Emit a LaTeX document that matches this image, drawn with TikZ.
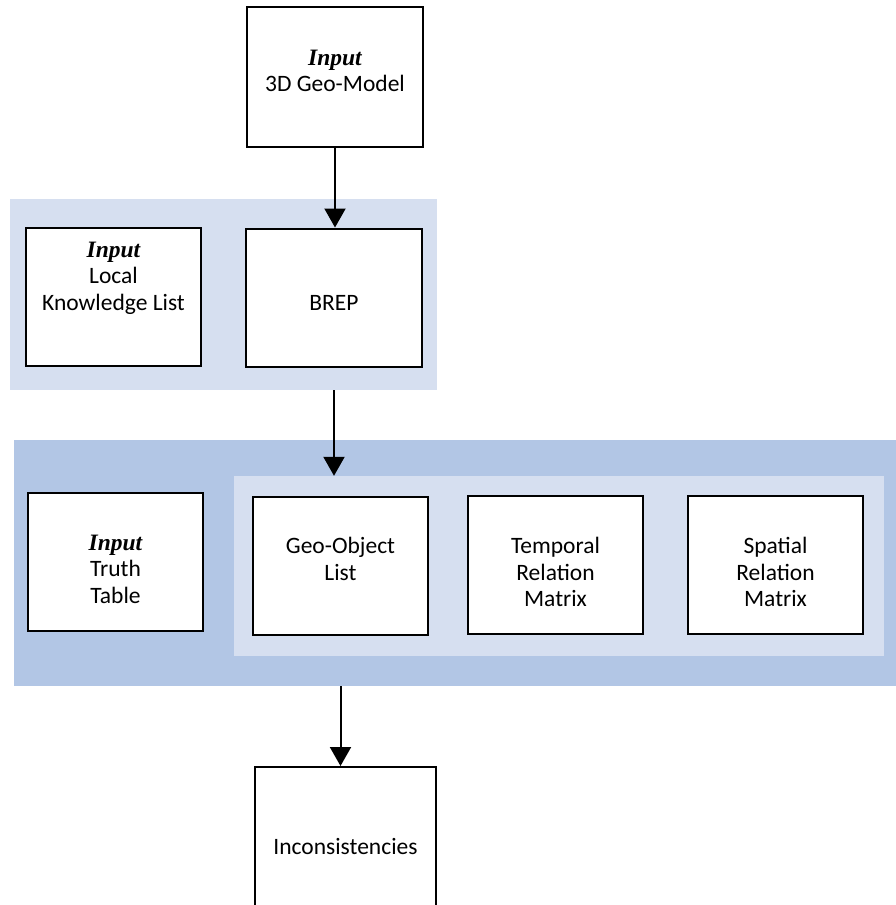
\documentclass[tikz,border=0pt]{standalone}
\usepackage{fontspec}
\setmainfont{Carlito}
\newfontfamily\inputfont{Liberation Serif}
\usetikzlibrary{arrows.meta}

\definecolor{panellight}{RGB}{214,223,240}
\definecolor{paneldark}{RGB}{178,198,229}
\newcommand{\inlabel}{{\inputfont\bfseries\itshape Input}}

\begin{document}
\begin{tikzpicture}[x=1pt,y=-1pt,
    box/.style={draw=black,line width=2pt,fill=white,minimum width=175pt,minimum height=138pt,inner sep=0pt},
    panel/.style={draw=none,inner sep=0pt},
    txt/.style={align=center,font=\fontsize{23.5}{26.5}\selectfont,inner sep=0pt},
    flow/.style={line width=2pt,-{Triangle[width=21pt,length=19pt]}}]
  \useasboundingbox (0,0) rectangle (896,905);
  \clip (0,0) rectangle (896,905);

  % background panels
  \node[panel,fill=panellight,minimum width=427pt,minimum height=191pt] (panelA) at (223.5,294.5) {};
  \node[panel,fill=paneldark,minimum width=890pt,minimum height=246pt] (panelB) at (459,563) {};
  \node[panel,fill=panellight,minimum width=650pt,minimum height=180pt] (panelC) at (559,566) {};

  % boxes
  \node[box,minimum width=176pt,minimum height=140pt] (geo) at (335,77) {};
  \node[box] (lkl) at (113.5,297) {};
  \node[box,minimum width=176pt] (brep) at (334,297.5) {};
  \node[box] (truth) at (115.5,561.5) {};
  \node[box] (gol) at (340.5,565.5) {};
  \node[box] (trm) at (555.5,565) {};
  \node[box] (srm) at (775.5,565) {};
  \node[box,minimum width=181pt,minimum height=180pt] (inc) at (345.5,857) {};

  % texts
  \node[txt] (geotxt) at (335,71) {\inlabel\\3D Geo-Model};
  \node[txt] (lkltxt) at (113.5,278) {\inlabel\\Local\\Knowledge List};
  \node[txt] (breptxt) at (334,303) {BREP};
  \node[txt] (truthtxt) at (115.5,569) {\inlabel\\Truth\\Table};
  \node[txt] (goltxt) at (340.5,559) {Geo-Object\\List};
  \node[txt] (trmtxt) at (555.5,572) {Temporal\\Relation\\Matrix};
  \node[txt] (srmtxt) at (775.5,572) {Spatial\\Relation\\Matrix};
  \node[txt] (inctxt) at (345.5,846) {Inconsistencies};

  % arrows
  \draw[flow] (geo.south) -- (geo.south |- brep.north);
  \draw[flow] (brep.south |- panelA.south) -- (brep.south |- panelC.north);
  \draw[flow] (gol.south |- panelB.south) -- (gol.south |- inc.north);
\end{tikzpicture}
\end{document}
